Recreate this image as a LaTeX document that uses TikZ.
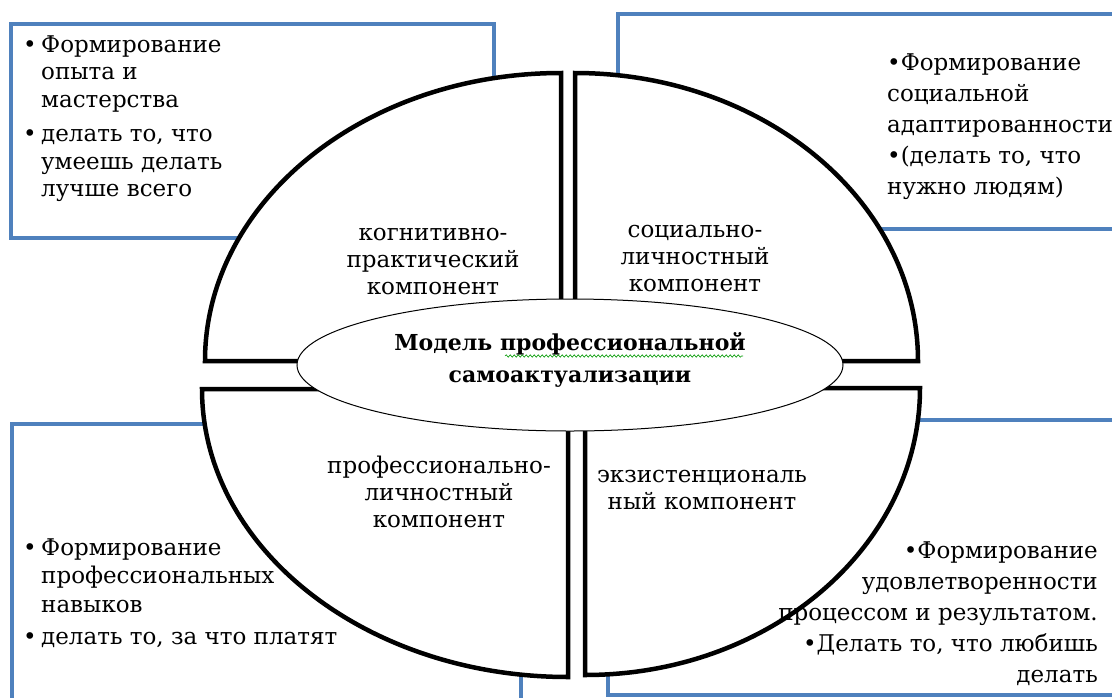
\documentclass[tikz,border=0pt]{standalone}
\usepackage{fontspec}
\setmainfont{DejaVu Serif}
\usetikzlibrary{shapes.geometric, positioning, decorations.pathmorphing}
\definecolor{boxblue}{HTML}{4F81BD}
\newcommand{\listdot}{\makebox[18pt][l]{•}}

\begin{document}
\begin{tikzpicture}[
    x=1pt, y=-1pt,
    frame/.style={draw=boxblue, line width=4pt, fill=white},
    part/.style={draw=black, line width=4.5pt, fill=white, line join=miter},
    core/.style={ellipse, draw=black, line width=1pt, fill=white, minimum width=546pt, minimum height=132pt, inner sep=0pt},
    txt/.style={inner sep=0pt, font=\fontsize{23}{27}\selectfont},
    spell/.style={draw=green!60!black, line width=0.6pt, decorate, decoration={snake, segment length=4pt, amplitude=1.2pt}}
  ]

  % ---- page ----
  \useasboundingbox (0,0) rectangle (1112,697);
  \fill[white] (0,0) rectangle (1112,697);
  \clip (0,0) rectangle (1112,697);

  % ---- corner frames ----
  \draw[frame] (11,24) rectangle (494,238);
  \draw[frame] (618,14) rectangle (1130,229);
  \draw[frame] (12,424) rectangle (521,715);
  \draw[frame] (608,420) rectangle (1130,695);

  % ---- four quarters ----
  \draw[part] (561,361) -- (561,73) arc[start angle=270, end angle=180, x radius=356, y radius=288] -- cycle;
  \draw[part] (575,361) -- (575,73) arc[start angle=270, end angle=360, x radius=343, y radius=288] -- cycle;
  \draw[part] (568,389) -- (568,677) arc[start angle=90, end angle=180, x radius=366, y radius=288] -- cycle;
  \draw[part] (585,388) -- (585,675) arc[start angle=90, end angle=0, x radius=335, y radius=287] -- cycle;

  % ---- centre ----
  \node[core] (model) at (570,365) {};
  \node[txt, font=\bfseries\fontsize{22}{32}\selectfont, anchor=base] (title) at (570,350)
    {\begin{tabular}[t]{@{}c@{}}Модель профессиональной\\самоактуализации\end{tabular}};
  \draw[spell] (505,356) -- (743,356);

  % ---- component names ----
  \node[txt, anchor=base] (cogn) at (433,240)
    {\begin{tabular}[t]{@{}c@{}}когнитивно-\\практический\\компонент\end{tabular}};
  \node[txt, anchor=base] (soc) at (695,237)
    {\begin{tabular}[t]{@{}c@{}}социально-\\личностный\\компонент\end{tabular}};
  \node[txt, anchor=base] (prof) at (439,473)
    {\begin{tabular}[t]{@{}c@{}}профессионально-\\личностный\\компонент\end{tabular}};
  \node[txt, anchor=base] (exist) at (702,482)
    {\begin{tabular}[t]{@{}c@{}}экзистенциональ\\ный компонент\end{tabular}};

  % ---- frame texts ----
  \node[txt, font=\fontsize{23}{27.5}\selectfont, anchor=base west] (skill) at (23,52)
    {\begin{tabular}[t]{@{}l@{}l@{}}\listdot & Формирование\\ & опыта и\\ & мастерства\\[7pt]
     \listdot & делать то, что\\ & умеешь делать\\ & лучше всего\end{tabular}};
  \node[txt, font=\fontsize{23}{31}\selectfont, anchor=base west] (social) at (887,70)
    {\begin{tabular}[t]{@{}l@{}}•Формирование\\социальной\\адаптированности\\•(делать то, что\\нужно людям)\end{tabular}};
  \node[txt, font=\fontsize{23}{28.5}\selectfont, anchor=base west] (pay) at (23,555)
    {\begin{tabular}[t]{@{}l@{}l@{}}\listdot & Формирование\\ & профессиональных\\ & навыков\\[3.5pt]
     \listdot & делать то, за что платят\end{tabular}};
  \node[txt, font=\fontsize{23}{31}\selectfont, anchor=base east] (joy) at (1098,558)
    {\begin{tabular}[t]{@{}r@{}}•Формирование\\удовлетворенности\\процессом и результатом.\\•Делать то, что любишь\\делать\end{tabular}};
\end{tikzpicture}
\end{document}
